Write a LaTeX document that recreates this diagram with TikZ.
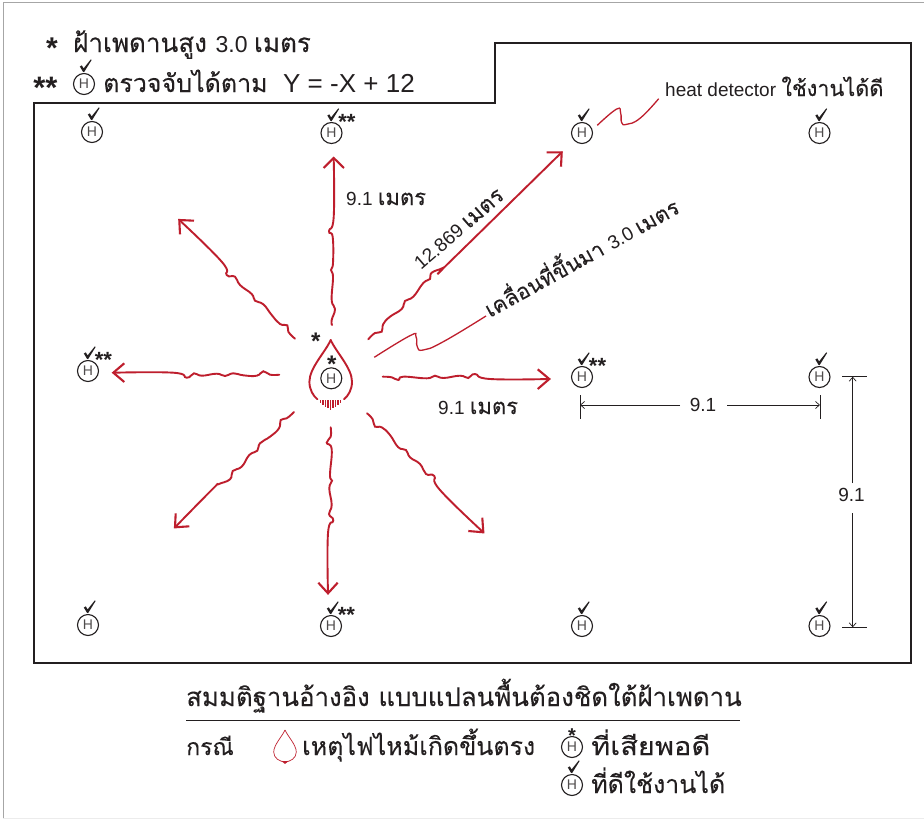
\documentclass[tikz,border=0pt]{standalone}
\usepackage{graphicx}
\usepackage{fontspec}
\setmainfont{Liberation Sans}
\newfontfamily\thaif[Script=Thai,FakeBold=0.08]{Loma}
\usetikzlibrary{arrows.meta,calc}
\definecolor{firered}{HTML}{BE1E2D}
\definecolor{ink}{HTML}{231F20}
\newcommand{\fs}[1]{\fontsize{#1}{#1}\selectfont}
\newcommand{\lat}{\normalfont}
\tikzset{
  sensor/.style={circle,draw=ink,line width=1.1pt,minimum size=21pt,inner sep=0pt,font=\fs{14},text=ink!80},
  flame/.style={draw=firered,line width=1.9pt,line cap=round},
  tipx/.style={draw=firered,line width=2.1pt,line join=miter},
  leaderx/.style={draw=firered,line width=1.3pt},
  dimx/.style={draw=ink,line width=.7pt},
  dimarrow/.style={dimx,-{Straight Barb[length=4pt,width=7pt]}},
  lbl/.style={anchor=base west,inner sep=0pt,text=ink},
  astnode/.style={anchor=base,inner sep=0pt,text=ink},
  droppic/.pic={
    \draw[#1] (0,0) .. controls (-5.3,12) and (-21.3,28) .. (-21.3,41.7) .. controls (-21.3,50) and (-17.3,56) .. (-13.3,59.3);
    \draw[#1] (0,0) .. controls (5.3,12) and (21.3,28) .. (21.3,41.7) .. controls (21.3,50) and (17.3,56) .. (13.3,59.3);
    \foreach \i in {-10,-7.5,-5,-2.5,0,2.5,5,7.5,10}{
      \pgfmathsetmacro{\b}{70-0.7*abs(\i)}
      \draw[draw=firered,line width=1.5pt] (\i,60) -- (\i,\b);
    }
  }
}
\newcommand{\chkmark}[2][1]{%
  \fill[ink] ($(#2)+(-4.2,-17.5)$) -- ($(#2)+(-2.2,-18.6)$) -- ($(#2)+(-0.4,-15.6)$) -- ($(#2)+(6.8,-24.6)$) -- ($(#2)+(7.6,-24)$) -- ($(#2)+(0.3,-12.2)$) -- ($(#2)+(-1,-12.2)$) -- cycle;
}
\newcommand{\hsens}[3]{%
  \node[sensor] (#1) at (#2,#3) {H};
  \chkmark{#1}
}
% name, x, y (centre of the star), size, text
\newcommand{\astk}[5]{%
  \node[astnode] (#1) at ($(#2,#3)+(0,{0.48*#4})$) {\fs{#4}\bfseries #5};
}
\newcommand{\dblstar}[1]{%
  \node[astnode] at ($(#1)+(15.5,{-14.5+0.48*22})$) {\fs{22}\bfseries **};
}
\begin{document}
\begin{tikzpicture}[x=1pt,y=-1pt]
\useasboundingbox (0,0) rectangle (924,819);
\fill[white] (0,0) rectangle (924,819);
\draw[gray!70,line width=1pt] (3,819) -- (3,2) -- (924,2);
\draw[gray!15,line width=1pt] (3,818.5) -- (924,818.5);
% room
\draw[draw=ink,line width=2pt,line join=miter] (34,103) -- (495,103) -- (495,43) -- (911,43) -- (911,663) -- (34,663) -- cycle;
% heading
\astk{st1}{52}{44}{30}{*}
\node[lbl] (t1) at (73,52) {\thaif\fs{26}ฝ้าเพดานสูง \lat\fs{23}3.0 \thaif\fs{26}เมตร};
\astk{st2}{45.5}{84}{31}{**}
\hsens{hk}{84}{84}
\node[lbl] (t2) at (103,92) {\thaif\fs{25}ตรวจจับได้ตาม};
\node[lbl] (t3) at (283,92) {\fs{26}Y = -X + 12};
% sensors
\hsens{a1}{92}{132}
\hsens{a2}{331.5}{133}
\hsens{a3}{582}{133}
\hsens{a4}{819.5}{133}
\hsens{b1}{88}{371}
\hsens{b3}{582}{377}
\hsens{b4}{819.5}{377}
\hsens{c1}{88}{625}
\hsens{c2}{331}{626}
\hsens{c3}{582}{626}
\hsens{c4}{819.5}{626}
\dblstar{a2}\dblstar{b1}\dblstar{b3}\dblstar{c2}
% fire
\pic at (330.7,340) {droppic={flame}};
\node[sensor] (fs) at (331.3,378.3) {H};
\astk{fs1}{331.7}{361}{24}{*}
\astk{fs2}{315.7}{338}{24}{*}
% red arrows
\draw[flame] plot[smooth,tension=.8] coordinates {(333.7,158) (333.7,217) (329,231) (332.7,237) (333,263) (331,270) (333,277) (331.7,300) (335,309) (331.7,320) (332,325)};
\draw[tipx] (323.7,168) -- (333.7,158) -- (344,168);
\draw[flame] plot[smooth,tension=.8] coordinates {(368.3,339.3) (375,333) (381.7,331.7) (383.3,324) (390,316.7) (401.7,309) (405,301) (413.3,296.7) (423.3,283) (430,279) (431.7,272.7) (443.3,267.7) (450,261.7) (561.7,152.3)};
\draw[tipx] (546.7,152.3) -- (561.7,152.3) -- (561,166.7);
\draw[flame] plot[smooth,tension=.8] coordinates {(382.7,376.7) (391.7,377.3) (398.3,380) (403.3,376.7) (426.7,378.3) (435,375.7) (443.3,378) (460,375.7) (468.3,378) (475,374) (490,379) (549.3,379)};
\draw[tipx] (537.7,369.3) -- (549.3,379) -- (537.7,389);
\draw[flame] plot[smooth,tension=.8] coordinates {(367,413.3) (372.7,419.3) (375,426.7) (381.7,427.3) (390,435) (398.3,447.3) (406,450) (410,457.3) (420,464) (426,474) (434.3,476) (440,490) (483.3,532.3)};
\draw[tipx] (482.3,517.7) -- (483.3,532.3) -- (468.3,531);
\draw[flame] plot[smooth,tension=.8] coordinates {(330.7,427.3) (330.7,436.7) (326.7,442.7) (331.7,449.3) (330,475) (332,480.7) (329.3,488.3) (331.7,505) (329,514) (333.3,520.7) (328,533.3) (328,593.3)};
\draw[tipx] (318.3,582.7) -- (328,593.3) -- (337.7,582.7);
\draw[flame] plot[smooth,tension=.8] coordinates {(294,412) (286.7,418.3) (280.7,420) (279,428.3) (270,436.7) (260,443.3) (257.3,450.7) (249.3,455) (241.7,466.7) (232.7,471) (230,479.3) (218.3,484.3) (213.3,488.3) (175,527.3)};
\draw[tipx] (175.7,513.3) -- (175,527.3) -- (189.3,526.3);
\draw[flame] plot[smooth,tension=.8] coordinates {(279.3,374.7) (270,374.7) (263.3,371.3) (256.7,375.7) (243.3,375.3) (233.3,373.3) (225,376) (216.7,373.7) (201.7,375.7) (194,373.3) (186.7,377.7) (173.3,372.7) (113.3,372.7)};
\draw[tipx] (124.3,363.3) -- (113.3,372.7) -- (124.3,382);
\draw[flame] plot[smooth,tension=.8] coordinates {(295,338.7) (288.3,331.7) (287.3,325.3) (280,324) (271.7,315) (263.3,304.3) (255,300.7) (251.7,294) (240,285) (235,276.7) (226.7,275) (221.7,261.7) (179.3,220)};
\draw[tipx] (194,220.7) -- (179.3,220) -- (180,234.3);
% leaders
\draw[leaderx] plot[smooth,tension=.8] coordinates {(374.3,357.3) (410,335.7) (416,336.7) (417.3,346.7) (423.3,350) (443.3,341.7) (486,316)};
\draw[leaderx] plot[smooth,tension=.8] coordinates {(597.3,125.3) (616.7,109) (620.7,113.3) (621.7,122.7) (626.7,124.3) (640,118.3) (658.7,98.7)};
% labels
\node[lbl] (n1) at (346,205) {\fs{19}9.1 \thaif\fs{22}เมตร};
\node[lbl] (n2) at (438,414) {\fs{19}9.1 \thaif\fs{22}เมตร};
\node[lbl,rotate=41] (n3) at (421,271) {\fs{19}12.869 \thaif\fs{22}เมตร};
\node[lbl,rotate=29] (n4) at (490,318) {\thaif\fs{21.5}เคลื่อนที่ขึ้นมา \lat\fs{19}3.0 \thaif\fs{21.5}เมตร};
\node[lbl] (n5) at (665,96) {\fs{19}heat detector \thaif\fs{21.7}ใช้งานได้ดี};
% dimensions
\coordinate (dh1) at (580,405); \coordinate (dh2) at (820,405);
\coordinate (dh1g) at (680,405); \coordinate (dh2g) at (727,405);
\node[inner sep=0pt,text=ink] (dhl) at (703,405) {\fs{19}9.1};
\draw[dimx] (580,395) -- (580,419);
\draw[dimx] (820,395) -- (820,419);
\draw[dimarrow] (dh1g) -- (dh1);
\draw[dimarrow] (dh2g) -- (dh2);
\coordinate (dv1) at (852.7,376.7); \coordinate (dv2) at (852.7,627.3);
\coordinate (dv1g) at (852.7,483); \coordinate (dv2g) at (852.7,513);
\node[inner sep=0pt,text=ink] (dvl) at (851.5,495) {\fs{19}9.1};
\draw[dimx] (842.3,376.7) -- (866.7,376.7);
\draw[dimx] (842.3,627.3) -- (866.7,627.3);
\draw[dimarrow] (dv1g) -- (dv1);
\draw[dimarrow] (dv2g) -- (dv2);
% footer
\node[lbl] (f1) at (186,706) {\thaif\fs{25.8}สมมติฐานอ้างอิง แบบแปลนพื้นต้องชิดใต้ฝ้าเพดาน};
\draw[draw=ink,line width=1pt] (186,720.5) -- (740,720.5);
\node[lbl] (f2) at (186,755) {\thaif\fs{23}กรณี};
\begin{scope}[shift={(285,730)},scale=.53]
\draw[draw=firered,line width=.7pt] (0,0) .. controls (-5.3,12) and (-21.3,28) .. (-21.3,41.7) .. controls (-21.3,53) and (-10,60) .. (0,60) .. controls (10,60) and (21.3,53) .. (21.3,41.7) .. controls (21.3,28) and (5.3,12) .. (0,0);
\fill[firered] (-7,58.5) -- (7,58.5) -- (0,64) -- cycle;
\end{scope}
\node[lbl] (f3) at (302,755) {\thaif\fs{25}เหตุไฟไหม้เกิดขึ้นตรง};
\node[sensor] (l1) at (572,747) {H};
\astk{l1s}{572}{733}{20}{*}
\node[lbl] (f4) at (591,755) {\scalebox{1.16}[1]{\thaif\fs{25}ที่เสียพอดี}};
\node[sensor] (l2) at (572,785) {H};
\chkmark{l2}
\node[lbl] (f5) at (591,793) {\thaif\fs{25}ที่ดีใช้งานได้};
\end{tikzpicture}
\end{document}
